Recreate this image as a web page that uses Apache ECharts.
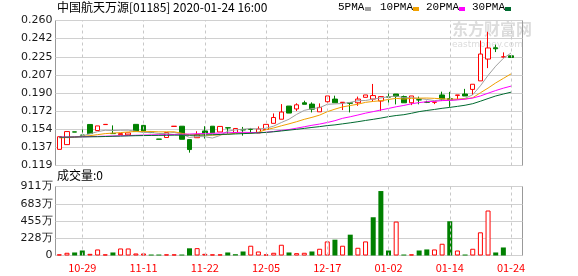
<!DOCTYPE html>
<html><head><meta charset="utf-8">
<script src="https://cdn.jsdelivr.net/npm/echarts@6/dist/echarts.min.js"></script>
<style>html,body{margin:0;padding:0;background:#fff}#c{width:578px;height:276px}</style>
</head><body><div id="c"></div>
<script>
const dates = ['10-24','10-25','10-28','10-29','10-30','10-31','11-01','11-04','11-05','11-06',
  '11-08','11-11','11-12','11-13','11-14','11-15','11-18','11-19','11-21','11-22',
  '11-25','11-26','11-27','11-28','12-02','12-03','12-04','12-05','12-06','12-09',
  '12-10','12-11','12-12','12-13','12-16','12-17','12-18','12-19','12-20','12-23',
  '12-24','12-27','12-31','01-02','01-03','01-06','01-07','01-08','01-09','01-10',
  '01-13','01-14','01-15','01-16','01-17','01-20','01-21','01-22','01-23','01-24',''];
const opens  = [0.1347,0.1393,0.1517,0.1486,0.1589,0.1530,0.1588,0.1502,0.1490,0.1488,
  0.1590,0.1580,0.1515,0.1447,0.1462,0.1570,0.1572,0.1442,0.1460,0.1526,
  0.1572,0.1516,0.1557,0.1510,0.1540,0.1542,0.1507,0.1540,0.1600,0.1640,
  0.1768,0.1740,0.1800,0.1787,0.1712,0.1810,0.1836,0.1800,0.1800,0.1800,
  0.1853,0.1836,0.1817,0.1858,0.1885,0.1860,0.1800,0.1830,0.1806,0.1805,
  0.1876,0.1840,0.1872,0.1885,0.1930,0.2013,0.2225,0.2335,0.2245,0.2257];
const closes = [0.1470,0.1520,0.1515,0.1484,0.1500,0.1575,0.1590,0.1500,0.1500,0.1507,
  0.1520,0.1525,0.1510,0.1445,0.1510,0.1572,0.1445,0.1345,0.1490,0.1500,
  0.1507,0.1570,0.1555,0.1550,0.1535,0.1540,0.1545,0.1590,0.1657,0.1710,
  0.1700,0.1780,0.1785,0.1738,0.1755,0.1866,0.1800,0.1805,0.1795,0.1836,
  0.1876,0.1870,0.1860,0.1855,0.1862,0.1800,0.1866,0.1827,0.1804,0.1807,
  0.1836,0.1830,0.1876,0.1866,0.1980,0.2274,0.2333,0.2325,0.2247,0.2240];
const lows   = [0.1347,0.1393,0.1515,0.1484,0.1497,0.1530,0.1588,0.1500,0.1490,0.1488,
  0.1520,0.1525,0.1505,0.1445,0.1462,0.1570,0.1445,0.1315,0.1460,0.1452,
  0.1507,0.1516,0.1500,0.1510,0.1480,0.1500,0.1507,0.1540,0.1600,0.1640,
  0.1700,0.1720,0.1785,0.1706,0.1712,0.1778,0.1800,0.1729,0.1706,0.1770,
  0.1853,0.1810,0.1720,0.1794,0.1784,0.1800,0.1777,0.1785,0.1797,0.1787,
  0.1817,0.1760,0.1834,0.1866,0.1876,0.2013,0.2137,0.2293,0.2238,0.2240];
const highs  = [0.1470,0.1520,0.1517,0.1566,0.1589,0.1575,0.1590,0.1580,0.1500,0.1507,
  0.1590,0.1585,0.1520,0.1447,0.1510,0.1572,0.1572,0.1442,0.1523,0.1572,
  0.1572,0.1570,0.1557,0.1550,0.1565,0.1555,0.1570,0.1590,0.1696,0.1787,
  0.1768,0.1795,0.1820,0.1804,0.1794,0.1866,0.1869,0.1805,0.1800,0.1860,
  0.1876,0.1983,0.1865,0.1915,0.1885,0.1870,0.1866,0.1860,0.1820,0.1807,
  0.1908,0.1906,0.1876,0.1935,0.1980,0.2405,0.2490,0.2365,0.2290,0.2257];
const volumes = [15,36,40,66,22,80,15,40,93,93,27,27,13,13,15,15,13,95,97,22,
  15,15,40,17,53,129,53,15,36,142,40,31,36,53,89,186,209,129,275,102,
  186,505,851,66,448,13,15,66,80,80,155,452,66,13,89,306,594,40,106,0];
const ma5  = ['-',0.1460,0.1465,0.1478,0.1498,0.1519,0.1533,0.1530,0.1533,0.1534,
  0.1523,0.1510,0.1512,0.1501,0.1502,0.1512,0.1496,0.1463,0.1472,0.1470,
  0.1457,0.1482,0.1524,0.1536,0.1543,0.1550,0.1545,0.1552,0.1573,0.1608,
  0.1640,0.1687,0.1726,0.1743,0.1752,0.1785,0.1789,0.1793,0.1804,0.1820,
  0.1822,0.1836,0.1847,0.1859,0.1865,0.1849,0.1849,0.1842,0.1832,0.1821,
  0.1828,0.1821,0.1831,0.1843,0.1878,0.1965,0.2066,0.2156,0.2232,0.2284];
const ma10 = [0.1458,0.1462,0.1467,0.1472,0.1480,0.1490,0.1500,0.1505,0.1510,0.1516,
  0.1521,0.1522,0.1521,0.1517,0.1518,0.1518,0.1503,0.1488,0.1487,0.1486,
  0.1485,0.1489,0.1494,0.1504,0.1507,0.1504,0.1514,0.1538,0.1555,0.1576,
  0.1595,0.1616,0.1639,0.1658,0.1680,0.1713,0.1738,0.1760,0.1773,0.1786,
  0.1804,0.1813,0.1820,0.1832,0.1843,0.1836,0.1843,0.1845,0.1846,0.1843,
  0.1839,0.1835,0.1836,0.1837,0.1849,0.1897,0.1943,0.1993,0.2037,0.2081];
const ma20 = [0.1466,0.1467,0.1468,0.1469,0.1471,0.1473,0.1475,0.1477,0.1479,0.1481,
  0.1484,0.1486,0.1488,0.1489,0.1490,0.1492,0.1494,0.1496,0.1499,0.1501,
  0.1503,0.1506,0.1508,0.1511,0.1513,0.1511,0.1509,0.1513,0.1521,0.1531,
  0.1540,0.1553,0.1567,0.1581,0.1593,0.1608,0.1626,0.1649,0.1664,0.1681,
  0.1699,0.1714,0.1730,0.1745,0.1761,0.1774,0.1790,0.1802,0.1810,0.1814,
  0.1821,0.1824,0.1828,0.1835,0.1846,0.1866,0.1893,0.1919,0.1942,0.1962];
const ma30 = [0.1465,0.1466,0.1467,0.1468,0.1469,0.1470,0.1472,0.1474,0.1476,0.1478,
  0.1480,0.1481,0.1482,0.1483,0.1484,0.1485,0.1485,0.1484,0.1485,0.1487,
  0.1489,0.1492,0.1494,0.1497,0.1500,0.1503,0.1507,0.1512,0.1518,0.1526,
  0.1534,0.1542,0.1551,0.1560,0.1568,0.1578,0.1585,0.1595,0.1605,0.1616,
  0.1628,0.1639,0.1651,0.1665,0.1676,0.1684,0.1698,0.1714,0.1725,0.1735,
  0.1746,0.1755,0.1765,0.1776,0.1791,0.1815,0.1841,0.1866,0.1885,0.1903];
const priceTicks = ['0.119','0.137','0.154','0.172','0.190','0.207','0.225','0.242','0.260'];
const volTicks = ['0','228万','455万','683万','911万'];
const labelDates = ['10-29','11-11','11-22','12-05','12-17','01-02','01-14','01-24'];
const title = '中国航天万源[01185] 2020-01-24 16:00';
const volTitle = '成交量:0';
const legendNames = ['5PMA','10PMA','20PMA','30PMA'];

const RED = '#ff0000', GREEN = '#008000';
const maColors = ['#a0a0a0','#f0a000','#ff00ff','#006a30'];
const PMIN = 0.119, PMAX = 0.260, PINT = (PMAX - PMIN) / 8;
const VMAX = 911, VINT = VMAX / 4;

const kData = dates.map((d, i) => i < opens.length ? [opens[i], closes[i], lows[i], highs[i]] : '-');
const volData = dates.map((d, i) => {
  if (i >= volumes.length) return '-';
  const prev = i > 0 ? closes[i - 1] : opens[i];
  const up = closes[i] >= prev;
  return { value: volumes[i], itemStyle: up ? { color: '#fff', borderColor: RED, borderWidth: 1 } : { color: GREEN } };
});
const empty = dates.map(() => '-');
const vlines = labelDates.map(d => ({ xAxis: d }));
const markLineCfg = { silent: true, symbol: ['none', 'none'], label: { show: false }, animation: false,
  lineStyle: { color: '#c8c8c8', type: [3, 3], width: 1 }, data: vlines };

const chart = echarts.init(document.getElementById('c'), null, { renderer: 'canvas' });
const legendGraphics = [];
const legX = [338, 380, 426, 472];
const legSq = [365, 413, 459, 505];
legendNames.forEach((n, i) => {
  legendGraphics.push({ type: 'text', left: legX[i], top: 2, style: { text: n, font: '11px "Liberation Mono"', fill: '#000' } });
  legendGraphics.push({ type: 'rect', left: legSq[i], top: 7, shape: { width: 6, height: 4 }, style: { fill: maColors[i] } });
});
chart.setOption({
  animation: false,
  backgroundColor: '#fff',
  graphic: [
    { type: 'text', left: 57, top: 1, style: { text: title, font: '12px "Noto Sans CJK SC"', fill: '#000' } },
    { type: 'text', left: 57, top: 169, style: { text: volTitle, font: '12px "Noto Sans CJK SC"', fill: '#000' } },
    { type: 'text', left: 452, top: 21, z: -1, style: { text: '东方财富网', font: 'bold 16px "Noto Sans CJK SC"', fill: '#dcdcdc' } },
    { type: 'text', left: 452, top: 40, z: -1, style: { text: 'eastmoney.com', font: '9px "DejaVu Sans"', fill: '#dcdcdc' } },
    ...legendGraphics
  ],
  grid: [
    { left: 55.5, top: 20.5, width: 467, height: 145, show: true, borderColor: '#999', borderWidth: 1, backgroundColor: 'transparent' },
    { left: 55.5, top: 186.5, width: 467, height: 69, show: true, borderColor: '#999', borderWidth: 1, backgroundColor: 'transparent' }
  ],
  xAxis: [
    { type: 'category', gridIndex: 0, data: dates, boundaryGap: true, axisLine: { show: false }, axisTick: { show: false }, axisLabel: { show: false }, splitLine: { show: false } },
    { type: 'category', gridIndex: 1, data: dates, boundaryGap: true, axisLine: { show: false }, axisTick: { show: false }, splitLine: { show: false },
      axisLabel: { show: true, interval: (i, v) => labelDates.indexOf(v) >= 0, color: RED, fontSize: 11, fontFamily: 'Noto Sans CJK SC', margin: 7 } }
  ],
  yAxis: [
    { type: 'value', gridIndex: 0, min: PMIN, max: PMAX, interval: PINT, scale: true,
      axisLine: { show: false }, axisTick: { show: false },
      splitLine: { show: true, lineStyle: { color: '#d0d0d0', width: 1 } },
      axisLabel: { margin: 3, color: '#1a1a1a', fontSize: 11, fontFamily: 'DejaVu Sans',
        formatter: v => priceTicks[Math.round((v - PMIN) / PINT)] } },
    { type: 'value', gridIndex: 1, min: 0, max: VMAX, interval: VINT,
      axisLine: { show: false }, axisTick: { show: false },
      splitLine: { show: true, lineStyle: { color: '#d0d0d0', width: 1 } },
      axisLabel: { margin: 3, color: '#1a1a1a', fontSize: 11, fontFamily: 'DejaVu Sans',
        formatter: v => volTicks[Math.round(v / VINT)] } }
  ],
  series: [
    { type: 'line', xAxisIndex: 0, yAxisIndex: 0, data: empty, z: 1, markLine: markLineCfg },
    { type: 'line', xAxisIndex: 1, yAxisIndex: 1, data: empty, z: 1, markLine: markLineCfg },
    { type: 'candlestick', xAxisIndex: 0, yAxisIndex: 0, data: kData, barWidth: 5,
      itemStyle: { color: '#fff', color0: GREEN, borderColor: RED, borderColor0: GREEN, borderWidth: 1 } },
    { type: 'bar', xAxisIndex: 1, yAxisIndex: 1, data: volData, barWidth: 5 },
    { type: 'line', xAxisIndex: 0, yAxisIndex: 0, data: ma5, showSymbol: false, lineStyle: { color: maColors[0], width: 1 }, z: 3 },
    { type: 'line', xAxisIndex: 0, yAxisIndex: 0, data: ma10, showSymbol: false, lineStyle: { color: maColors[1], width: 1 }, z: 3 },
    { type: 'line', xAxisIndex: 0, yAxisIndex: 0, data: ma20, showSymbol: false, lineStyle: { color: maColors[2], width: 1 }, z: 3 },
    { type: 'line', xAxisIndex: 0, yAxisIndex: 0, data: ma30, showSymbol: false, lineStyle: { color: maColors[3], width: 1 }, z: 3 }
  ]
});
</script></body></html>
